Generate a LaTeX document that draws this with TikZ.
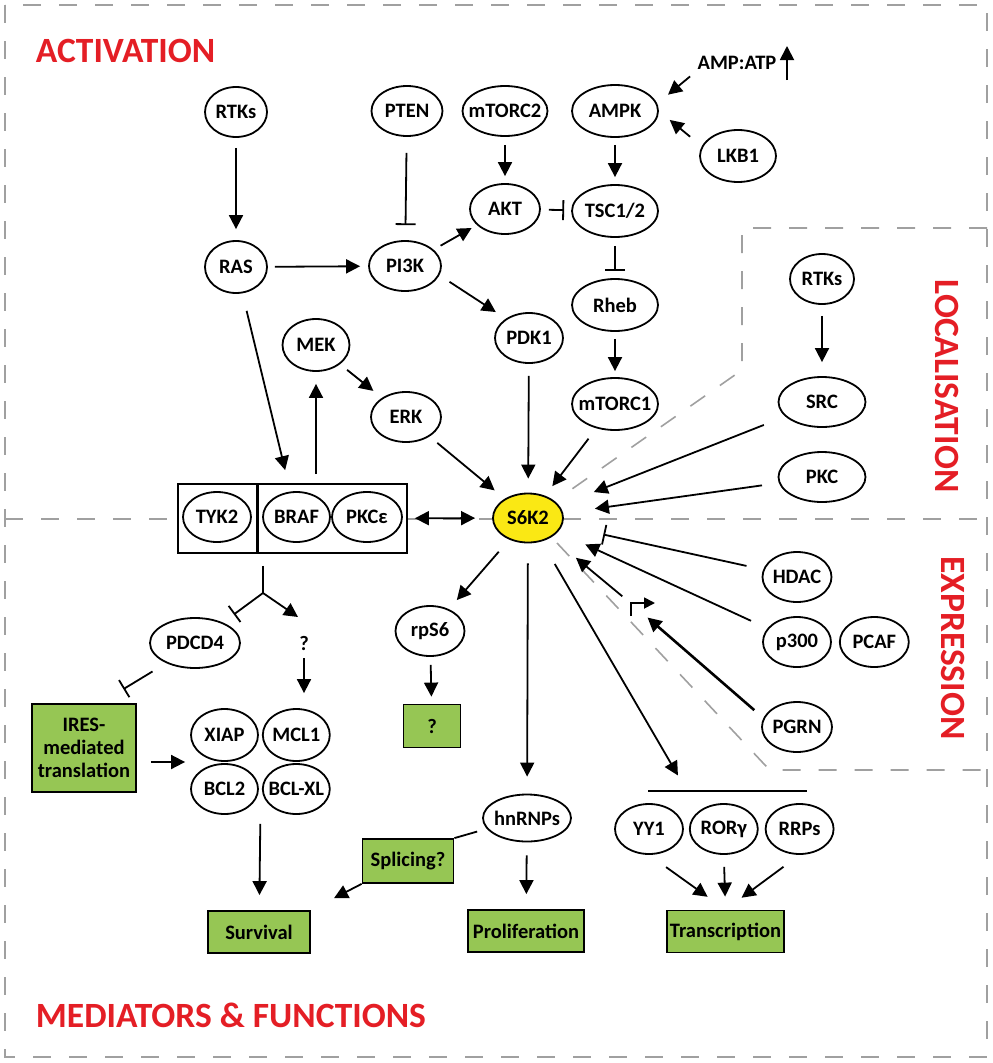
\documentclass[tikz,border=0pt]{standalone}
\usepackage{fontspec}
\setmainfont{Carlito}
\usetikzlibrary{arrows.meta,positioning,shapes.geometric,calc}

\definecolor{titlered}{RGB}{228,30,37}
\definecolor{boxgreen}{RGB}{150,198,84}
\definecolor{kinyellow}{RGB}{250,232,20}
\definecolor{zonegray}{RGB}{160,160,160}

\begin{document}
\begin{tikzpicture}[x=1pt, y=-1pt, line width=1.8pt,
    font=\fontsize{20.5}{23}\selectfont\bfseries,
    >={Triangle[length=14pt,width=14pt]},
    mol/.style={ellipse, draw, minimum width=#1, minimum height=50pt, inner xsep=-10pt, inner ysep=0pt},
    mol/.default=68pt,
    fn/.style={rectangle, draw, fill=boxgreen, minimum width=#1, minimum height=42pt, inner sep=0pt, align=center},
    fn/.default=104pt,
    zone/.style={zonegray, line width=1.6pt, dash pattern=on 18pt off 18pt},
    title/.style={text=titlered, font=\fontsize{35.5}{38}\selectfont\bfseries, inner sep=0pt},
    inh/.style={-{Bar[width=20pt]}}]
  \useasboundingbox (0,0) rectangle (993,1063);

  % zones
  \draw[zone] (5,5) rectangle (987,1057);
  \draw[zone] (5,519) -- (178,519);
  \draw[zone] (407,519) -- (493,519);
  \draw[zone] (563,519) -- (987,519);
  \draw[zone] (987,228) -- (742,228) -- (742,370) -- (562,496);
  \draw[zone] (557,543) -- (764,764) -- (770,770) -- (987,770);

  \node[title, anchor=west] (tact) at (35,51) {ACTIVATION};
  \node[title, anchor=west] (tmed) at (35,1015) {MEDIATORS \& FUNCTIONS};
  \node[title, rotate=-90] (tloc) at (947,386) {LOCALISATION};
  \node[title, rotate=-90] (texp) at (953,648) {EXPRESSION};

  % activation
  \node[mol=62pt] (rtks) at (236,112) {RTKs};
  \node[mol=71pt] (pten) at (407,111) {PTEN};
  \node[mol=85pt] (mtorc2) at (505,111) {mTORC2};
  \node[mol=86pt, minimum height=52pt] (ampk) at (615,111) {AMPK};
  \node[inner sep=2pt] (ampatp) at (737,63) {AMP:ATP};
  \coordinate (atpup) at (787,80);
  \node[mol=76pt, minimum height=52pt] (lkb1) at (738,156) {LKB1};
  \node[mol=70pt] (akt) at (505,209) {AKT};
  \node[mol=86pt, minimum height=52pt] (tsc) at (615,211) {TSC1/2};
  \node[mol=62pt, minimum height=52pt] (ras) at (236,267) {RAS};
  \node[mol=72pt] (pi3k) at (405,266) {PI3K};
  \node[mol=86pt, minimum height=52pt] (rheb) at (615,305) {Rheb};
  \node[mol=68pt] (pdk1) at (529,338) {PDK1};
  \node[mol=86pt, minimum height=52pt] (mtorc1) at (615,404) {mTORC1};
  \node[mol=67pt, minimum height=52pt] (mek) at (316,345) {MEK};
  \node[mol=70pt] (erk) at (406,417) {ERK};

  % localisation
  \node[mol=64pt] (rtks2) at (822,279) {RTKs};
  \node[mol=87pt] (src) at (822,402) {SRC};
  \node[mol=87pt] (pkc) at (822,477) {PKC};

  % kinase and complex
  \node[mol=70pt, minimum height=49pt, fill=kinyellow] (s6k2) at (528,518) {S6K2};
  \node[draw, minimum width=229pt, minimum height=69pt, inner sep=0pt] (cplx) at (292.5,518.5) {};
  \node[mol=68pt] (tyk2) at (217,517) {TYK2};
  \node[mol=67pt] (braf) at (296.5,517) {BRAF};
  \node[mol=70pt] (pkce) at (367,517) {PKCε};
  \draw[line width=3pt] (257,484) -- (257,553);

  % expression
  \node[mol=69pt] (hdac) at (797,577) {HDAC};
  \node[mol=68pt] (p300) at (797,642) {p300};
  \node[mol=69pt, right=7pt of p300] (pcaf) {PCAF};
  \node[mol=70pt] (pgrn) at (797,727) {PGRN};
  \coordinate (prom) at (640,611);
  \draw[->, >={Triangle[length=11pt,width=11pt]}] (631,616) |- (655,603);

  % mediators and functions
  \node[mol=69pt] (rps6) at (430,631) {rpS6};
  \node[fn=57pt, minimum height=43pt] (qbox) at (432,726) {?};
  \node[mol=90pt] (pdcd4) at (195,643) {PDCD4};
  \node (qm) at (304,643) {?};
  \node[fn=104pt, minimum height=88pt] (ires) at (84,748) {IRES-\\mediated\\translation};
  \node[mol=67pt, minimum height=52pt] (xiap) at (224.5,735) {XIAP};
  \node[mol=67pt, minimum height=52pt, right=3pt of xiap] (mcl1) {MCL1};
  \node[mol=67pt] (bcl2) at (224.5,789) {BCL2};
  \node[mol=67pt, right=3pt of bcl2] (bclxl) {BCL-XL};
  \coordinate (apop) at ($(xiap.west)!.5!(bcl2.west)$);
  \coordinate (apops) at ($(bcl2.south)!.5!(bclxl.south)$);
  \node[mol=88pt, minimum height=47pt] (hnrnps) at (527,818) {hnRNPs};
  \node[fn=91pt, minimum height=44pt] (splice) at (408,861) {Splicing?};
  \node[fn=102pt] (surv) at (259,932) {Survival};
  \node[fn=116pt] (prolif) at (526,931) {Proliferation};
  \node[fn=117pt] (trans) at (725.5,931.5) {Transcription};
  \node[mol=68pt] (yy1) at (649,829) {YY1};
  \node[mol=68pt, right=5pt of yy1] (roryg) {RORγ};
  \node[mol=68pt, right=6pt of roryg] (rrps) {RRPs};
  \coordinate (tfl) at (648,791);
  \coordinate (tfr) at (807,791);
  \coordinate (tfin) at (687,791);
  \coordinate (fork) at (263,593);
  \coordinate (forkr) at (298,617);

  % activation links
  \draw[->, shorten <=10pt, shorten >=11pt] (rtks) -- (ras);
  \draw[->, shorten <=7pt, shorten >=8pt] (ras) -- (pi3k);
  \draw[inh, shorten <=16pt, shorten >=15pt] (pten) -- (pi3k);
  \draw[->, shorten <=8pt, shorten >=6pt] (pi3k) -- (akt);
  \draw[->, shorten <=12pt, shorten >=12pt] (pi3k.-15) -- (pdk1.140);
  \draw[->, shorten <=8pt, shorten >=7pt] (mtorc2) -- (akt);
  \draw[inh, shorten <=8pt, shorten >=7pt] (akt) -- (tsc);
  \draw[->, shorten <=7pt, shorten >=7pt] (ampk) -- (tsc);
  \draw[->, shorten <=6pt, shorten >=14pt] (ampatp.south west) -- (ampk.10);
  \draw[->] (atpup) -- ++(0,-34);
  \draw[->, shorten <=15pt, shorten >=14pt] (lkb1.165) -- (ampk.east);
  \draw[inh, shorten <=8pt, shorten >=7pt] (tsc) -- (rheb);
  \draw[->, shorten <=7pt, shorten >=6pt] (rheb) -- (mtorc1);
  \draw[->, shorten <=13pt, shorten >=12pt] (mtorc1) -- (s6k2);
  \draw[->, shorten <=12pt, shorten >=14pt] (pdk1) -- (s6k2);
  \draw[->, shorten <=18pt, shorten >=22pt] (ras) -- (braf);
  \draw[->, shorten <=9pt, shorten >=12pt] (cplx.north -| mek) -- (mek);
  \draw[->, shorten <=9pt, shorten >=11pt] (mek) -- (erk);
  \draw[->, shorten <=10pt, shorten >=13pt] (erk) -- (s6k2);
  \draw[<->, shorten <=7pt, shorten >=17pt] (cplx) -- (s6k2);

  % localisation and expression links
  \draw[->, shorten <=11pt, shorten >=14pt] (rtks2) -- (src);
  \draw[->, shorten <=23pt, shorten >=37pt] (src) -- (s6k2);
  \draw[->, shorten <=17pt, shorten >=32pt] (pkc) -- (s6k2);
  \draw[inh, shorten <=17pt, shorten >=42pt] (hdac) -- (s6k2);
  \draw[->, shorten <=18pt, shorten >=30pt] (p300) -- (s6k2);
  \draw[->, shorten <=23pt, shorten >=32pt] (prom) -- (s6k2);
  \draw[->, line width=2.6pt, shorten <=12pt, shorten >=10pt] (pgrn.165) -- (prom);

  % downstream links
  \draw[->, shorten <=26pt, shorten >=18pt] (s6k2) -- (tfin);
  \draw (tfl) -- (tfr);
  \draw[->, shorten <=21pt, shorten >=22pt] (yy1.south) -- (trans.north);
  \draw[->, shorten <=12pt, shorten >=13pt] (roryg.south) -- (trans.north);
  \draw[->, shorten <=20pt, shorten >=20pt] (rrps.south) -- (trans.north);
  \draw[->, shorten <=16pt, shorten >=12pt] (s6k2) -- (rps6);
  \draw[->, shorten <=8pt, shorten >=7pt] (rps6) -- (qbox);
  \draw[->, shorten <=20pt, shorten >=17pt] (s6k2) -- (hnrnps);
  \draw[shorten <=10pt] (hnrnps.195) -- (splice.north east);
  \draw[->, shorten >=26pt] (splice.south west) -- (surv.north east);
  \draw[->, shorten <=13pt, shorten >=15pt] (hnrnps) -- (prolif);
  \draw[shorten <=12pt] (cplx.south -| fork) -- (fork);
  \draw[inh, shorten >=13.5pt] (fork) -- (pdcd4);
  \draw[->] (fork) -- (forkr);
  \draw[->, shorten <=4pt, shorten >=15pt] (qm) -- (qm |- mcl1.north);
  \draw[inh, shorten <=16pt, shorten >=27pt] (pdcd4.215) -- (ires.70);
  \draw[->, shorten <=14pt, shorten >=5pt] (ires.east |- apop) -- (apop);
  \draw[->, shorten <=9pt, shorten >=15pt] (apops) -- (surv);
\end{tikzpicture}
\end{document}
